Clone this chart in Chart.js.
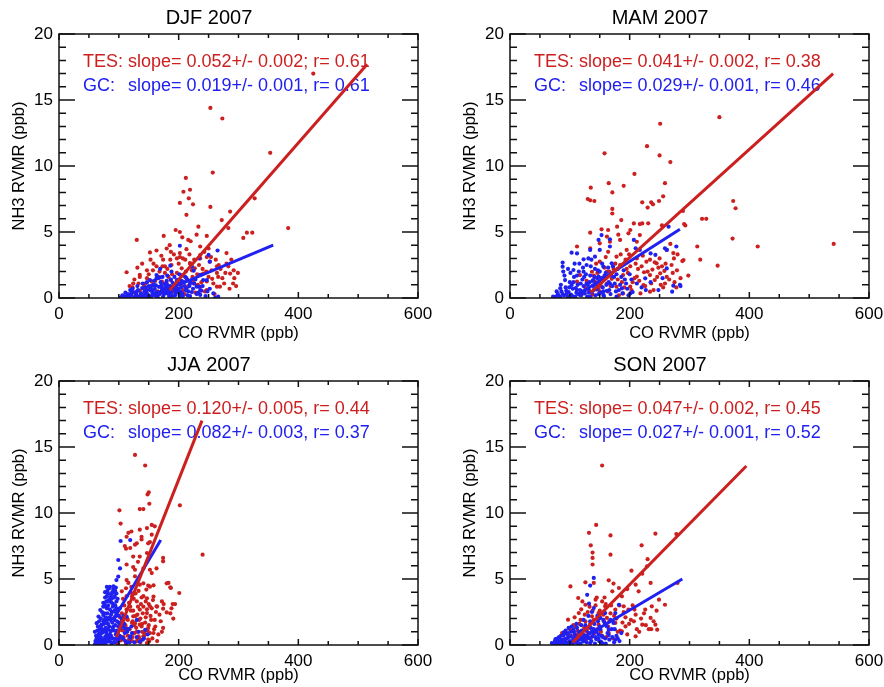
<!DOCTYPE html>
<html>
  <head>
    <meta charset="utf-8" />
    <script src="https://cdn.jsdelivr.net/npm/chart.js"></script>
    <style>
      body { margin: 0; background: #fff; overflow: hidden; width: 884px; height: 687px; position: relative; }
      .panel { position: absolute; width: 442px; height: 343px; }
    </style>
  </head>
  <body>
    <div class="panel" style="left:0;top:0"><canvas id="djf"></canvas></div>
    <div class="panel" style="left:451px;top:0"><canvas id="mam"></canvas></div>
    <div class="panel" style="left:0;top:347px"><canvas id="jja"></canvas></div>
    <div class="panel" style="left:451px;top:347px"><canvas id="son"></canvas></div>
    <script>
      // [CO, NH3] pairs in ppb
      const djfTes = [[425,17.0],[253,14.4],[273,13.6],[353,11.0],[257,9.5],[212,9.1],[208,8.05],[219,8.2],[217,7.55],[202,7.2],[224,7.1],[253,6.9],[213,6.3],[327,7.55],[286,6.55],[272,5.9],[233,5.4],[195,5.15],[283,5.3],[383,5.3],[314,4.95],[323,4.95],[308,4.55],[247,4.7],[175,4.7],[130,4.4],[206,4.6],[220,4.3],[236,3.9],[250,3.75],[163,3.6],[152,3.45],[180,3.75],[187,3.5],[202,3.4],[213,3.7],[247,3.1],[236,3.0],[174,2.9],[158,2.6],[197,3.0],[211,2.9],[280,2.6],[264,2.4],[292,2.1],[286,1.85],[266,1.6],[255,2.1],[241,1.85],[113,1.95],[135,1.75],[147,1.5],[133,1.1],[123,0.8],[141,0.73],[155,1.25],[166,1.6],[177,1.9],[187,1.35],[194,1.0],[225,1.1],[236,0.86],[247,1.25],[264,0.86],[208,1.7],[163,2.4],[173,2.4],[188,2.5],[205,2.25],[219,2.6],[227,2.25],[147,2.1],[185,4.0],[202,5.0],[216,4.4],[230,4.8],[135,1.6],[124,1.1],[144,1.1],[157,2.1],[177,2.4],[186,2.9],[202,3.1],[197,1.9],[219,2.65],[236,3.25],[252,2.75],[264,1.9],[280,3.4],[283,2.4],[299,1.9],[291,1.1],[269,0.86],[247,0.6],[225,1.36],[208,0.6],[152,0.75],[169,0.37],[122,0.48],[138,0.1],[128,0.3],[135,0.55],[142,1.0],[148,0.2],[160,0.95],[165,0.5],[172,1.25],[178,0.7],[183,1.6],[190,0.5],[198,1.25],[203,1.75],[210,0.3],[214,1.4],[222,2.1],[228,0.4],[232,1.0],[240,2.2],[244,0.5],[256,1.45],[260,0.3],[270,2.2],[276,1.1],[285,0.7],[293,1.5],[118,0.9],[126,1.4],[131,2.3],[139,2.6],[145,0.4],[150,1.8],[153,2.9],[161,1.3],[168,2.0],[171,3.2],[176,1.1],[181,2.2],[184,0.3],[189,1.8],[192,3.3],[196,0.7],[200,2.6],[204,1.0],[207,3.0],[212,2.0],[216,0.9],[218,3.3],[223,1.6],[226,2.9],[231,1.8],[234,2.5],[238,1.2],[243,3.5],[246,2.0],[250,1.6],[254,3.1],[258,1.1],[262,2.9],[267,2.5],[273,1.5],[278,1.9],[288,2.9],[296,0.9]];
      const djfGc = [[202,3.96],[186,2.45],[234,3.0],[250,3.26],[265,3.6],[252,2.75],[221,2.37],[225,2.07],[163,1.74],[169,1.57],[155,0.93],[145,0.8],[180,0.9],[202,1.1],[236,0.6],[258,0.35],[266,0.1],[219,0.15],[113,0.1],[121,0.35],[130,0.48],[241,1.36],[234,0.86],[222,2.4],[169,2.2],[188,2.0],[236,1.75],[230,0.86],[247,1.36],[152,1.36],[163,1.5],[180,1.1],[197,1.36],[211,1.6],[219,1.1],[119,0.6],[110,0.1],[102,0.02],[147,0.6],[158,0.35],[172,0.73],[183,0.36],[194,0.6],[202,0.23],[213,0.73],[236,0.23],[261,0.02],[104,0.05],[108,0.15],[112,0.05],[115,0.3],[118,0.1],[121,0.2],[124,0.45],[126,0.05],[129,0.25],[132,0.6],[134,0.1],[137,0.35],[139,0.75],[141,0.15],[143,0.5],[146,0.05],[148,0.3],[150,0.9],[152,0.6],[154,0.15],[156,0.4],[158,1.0],[160,0.7],[161,0.2],[163,0.45],[165,0.05],[167,0.85],[168,0.3],[170,1.2],[172,0.55],[174,0.1],[176,0.75],[178,0.35],[180,1.3],[182,0.6],[184,0.15],[186,0.9],[188,0.4],[190,1.15],[192,0.7],[194,0.2],[196,0.95],[198,0.5],[200,1.4],[202,0.1],[204,0.8],[206,0.35],[209,1.2],[212,0.6],[215,0.2],[218,0.9],[222,0.45],[226,1.1],[230,0.3],[238,0.55],[245,0.15],[252,0.7],[106,0.2],[111,0.4],[117,0.25],[123,0.7],[128,0.1],[131,0.9],[136,0.2],[140,1.1],[144,0.35],[147,1.2],[151,0.1],[153,0.8],[157,0.6],[159,1.3],[162,0.95],[164,0.25],[166,1.5],[169,0.45],[171,0.95],[173,1.6],[175,0.3],[177,1.05],[179,0.55],[181,1.7],[183,0.9],[185,0.45],[187,1.4],[189,0.15],[191,0.8],[193,1.6],[195,0.35],[197,1.1],[199,0.7],[201,1.8],[203,0.5],[205,1.3],[207,0.15],[210,0.9],[213,1.5],[216,0.5],[220,1.2],[224,0.7],[228,1.4],[233,0.4],[240,0.9],[248,0.5]];
      const mamTes = [[350,13.7],[251,13.2],[229,11.5],[250,10.8],[268,10.3],[158,10.96],[208,9.4],[165,8.7],[190,8.5],[259,8.7],[135,8.36],[171,8.0],[256,7.7],[130,7.5],[134,7.4],[141,7.35],[221,7.25],[236,7.25],[249,7.35],[239,7.1],[230,6.85],[171,6.75],[171,6.4],[373,7.35],[377,6.8],[289,6.6],[186,5.9],[207,5.65],[221,5.65],[254,5.5],[321,6.0],[328,6.0],[291,5.6],[372,4.5],[313,3.9],[414,3.9],[541,4.1],[318,2.9],[347,2.45],[298,1.7],[288,2.8],[274,3.0],[268,4.1],[217,5.6],[231,5.66],[153,5.2],[164,5.15],[179,5.4],[201,5.15],[134,4.95],[162,4.65],[181,4.8],[198,4.9],[217,4.77],[167,4.26],[150,4.14],[184,4.4],[212,4.26],[112,3.9],[134,3.76],[164,3.5],[195,3.64],[178,3.13],[212,3.0],[234,2.9],[245,2.63],[254,2.4],[220,2.4],[201,2.4],[184,2.5],[150,2.75],[137,1.99],[162,1.99],[189,1.74],[212,1.62],[234,1.74],[251,1.87],[242,1.36],[223,0.98],[201,0.86],[178,0.86],[162,1.1],[142,1.24],[125,0.86],[112,1.24],[117,1.74],[150,0.48],[189,0.35],[234,0.48],[259,1.1],[279,2.1],[290,2.87],[262,3.64],[273,3.4],[293,5.5],[120,0.4],[128,1.3],[138,0.25],[146,1.9],[152,0.9],[158,2.3],[163,0.5],[170,1.45],[176,2.6],[182,0.2],[187,1.2],[193,2.9],[197,1.9],[203,0.6],[208,1.5],[214,2.2],[218,0.35],[224,1.95],[228,2.75],[238,2.15],[240,0.6],[248,2.3],[252,1.0],[258,2.05],[262,1.6],[270,2.5],[275,1.2],[280,3.3],[132,0.6],[140,1.7],[144,2.6],[148,0.7],[155,1.5],[160,3.1],[166,2.0],[168,0.9],[173,2.2],[180,1.4],[185,3.3],[191,0.8],[195,2.2],[199,3.3],[205,1.2],[210,2.6],[216,1.3],[222,3.2],[226,0.9],[230,2.0],[236,1.1],[242,2.7],[246,1.6],[250,3.0],[256,0.8],[260,2.6],[266,1.4],[272,1.9],[278,0.8],[285,1.5]];
      const mamGc = [[278,3.9],[285,0.9],[271,0.48],[259,3.76],[207,4.4],[210,3.76],[235,3.38],[265,5.4],[153,4.77],[148,4.4],[167,4.45],[134,3.64],[150,3.64],[167,3.9],[103,3.43],[112,3.38],[123,2.93],[131,3.0],[142,3.13],[88,2.68],[88,2.37],[89,2.0],[106,2.12],[123,1.99],[156,2.37],[170,2.63],[148,1.62],[92,1.36],[103,0.98],[84,0.73],[112,0.6],[128,1.1],[139,1.36],[167,1.1],[187,0.73],[217,3.64],[226,1.49],[227,0.6],[201,0.35],[262,3.64],[243,3.26],[262,2.24],[273,0.93],[284,1.0],[72,0.1],[95,0.35],[117,0.23],[156,0.23],[178,0.1],[134,0.1],[76,0.1],[80,0.3],[84,0.05],[86,0.5],[90,0.2],[93,0.8],[96,0.1],[98,0.45],[100,1.2],[102,0.25],[105,0.7],[107,1.6],[109,0.1],[111,0.4],[113,1.0],[115,2.0],[117,0.6],[119,0.2],[121,1.4],[123,0.9],[125,0.35],[127,1.8],[129,0.1],[131,0.7],[133,1.2],[135,2.4],[137,0.45],[139,0.9],[141,1.6],[143,0.2],[145,0.65],[147,2.1],[149,1.1],[151,0.4],[153,1.5],[155,0.8],[157,0.15],[160,1.9],[162,0.55],[165,1.2],[168,0.3],[171,0.9],[174,1.6],[177,0.5],[180,2.2],[184,1.0],[188,0.35],[192,1.4],[196,0.7],[200,1.8],[205,0.45],[212,1.1],[220,0.8],[235,1.2],[248,0.6],[255,1.5],[78,0.5],[82,0.15],[85,1.0],[88,0.3],[91,1.7],[94,0.55],[97,2.2],[99,0.8],[101,1.9],[104,0.15],[106,1.2],[108,2.6],[110,0.75],[112,1.7],[114,0.3],[116,2.6],[118,1.1],[120,0.5],[122,2.3],[124,1.6],[126,0.6],[128,2.5],[130,1.0],[132,0.4],[134,1.7],[136,2.9],[138,1.3],[140,0.6],[142,2.2],[144,1.0],[146,1.5],[148,0.3],[150,2.0],[152,1.2],[154,2.6],[156,0.5],[158,1.7],[161,1.0],[164,2.3],[166,0.6],[169,1.7],[172,2.4],[175,1.1],[178,1.8],[182,0.6],[186,1.6],[190,2.1],[194,1.1],[198,0.2],[203,1.4]];
      const jjaTes = [[127,14.4],[144,13.6],[150,11.57],[148,11.4],[151,10.7],[202,10.58],[101,10.2],[135,10.3],[141,10.3],[240,6.84],[116,8.5],[121,8.6],[135,8.74],[147,8.86],[155,9.1],[160,8.99],[113,8.2],[110,7.5],[119,7.35],[130,7.7],[138,8.0],[149,7.7],[155,8.36],[124,6.7],[135,6.7],[147,6.97],[174,6.6],[174,6.34],[113,6.1],[127,5.7],[141,5.8],[155,5.45],[127,5.2],[116,4.7],[135,4.57],[149,4.5],[158,4.52],[183,4.7],[187,4.32],[201,3.94],[105,4.07],[113,3.7],[121,3.94],[130,3.3],[141,3.7],[152,2.93],[163,2.93],[174,2.75],[190,3.1],[180,2.47],[191,2.0],[174,1.29],[135,2.68],[147,2.42],[124,2.17],[113,2.68],[105,1.92],[122,1.67],[135,1.54],[149,1.29],[158,0.91],[141,0.66],[124,0.91],[108,0.4],[130,0.28],[149,0.4],[99,0.66],[103,9.2],[138,8.2],[112,7.3],[127,7.6],[152,7.8],[132,6.3],[124,5.9],[152,5.7],[163,5.8],[113,4.92],[141,4.67],[152,4.42],[180,4.67],[186,4.37],[122,3.67],[147,3.54],[158,3.67],[172,3.3],[164,2.91],[155,2.78],[188,2.78],[186,2.4],[194,3.1],[160,1.9],[108,1.9],[113,1.26],[127,1.65],[138,1.4],[152,0.9],[102,0.66],[119,0.4],[133,0.66],[147,0.15],[99,0.03],[96,0.2],[98,0.8],[101,1.6],[103,0.35],[105,2.4],[106,1.1],[108,0.6],[109,3.0],[111,1.5],[112,0.1],[114,2.0],[115,0.7],[117,3.2],[118,1.2],[120,2.6],[122,0.3],[123,1.8],[125,3.5],[126,0.9],[128,2.2],[129,1.3],[131,0.5],[132,2.9],[134,1.9],[136,0.2],[137,3.1],[139,1.0],[140,2.4],[142,0.7],[144,1.7],[145,3.3],[147,2.7],[150,1.5],[153,2.2],[156,0.5],[159,1.2],[162,2.5],[166,0.8],[170,1.8],[175,3.1],[100,1.1],[102,2.1],[104,0.5],[107,3.5],[110,1.2],[112,4.3],[115,1.9],[117,0.4],[119,2.9],[121,4.4],[123,0.6],[124,2.6],[126,1.5],[128,3.9],[130,1.0],[131,2.3],[133,4.1],[134,0.5],[136,2.0],[138,3.6],[139,1.6],[141,2.9],[143,0.9],[145,2.1],[146,4.2],[148,1.1],[150,3.1],[151,0.3],[154,1.9],[157,3.4],[161,1.4],[164,0.3],[168,2.3],[172,1.0]];
      const jjaGc = [[103,7.88],[119,7.95],[99,6.44],[102,5.8],[99,5.18],[96,4.92],[80,4.4],[85,4.4],[91,4.45],[95,4.35],[77,4.0],[82,3.9],[91,4.0],[96,3.9],[80,3.7],[88,3.5],[93,3.7],[74,3.2],[85,3.3],[91,3.1],[69,2.65],[80,2.78],[88,2.53],[96,2.78],[66,2.15],[74,2.27],[82,2.02],[94,2.15],[63,1.65],[71,1.52],[80,1.65],[91,1.4],[102,1.65],[60,1.0],[68,0.9],[77,1.15],[85,0.77],[96,1.0],[110,1.26],[63,0.4],[71,0.28],[80,0.53],[88,0.15],[99,0.4],[119,0.66],[121,1.4],[133,1.0],[144,1.15],[113,2.15],[130,1.9],[148,0.8],[140,0.4],[68,0.02],[74,0.05],[60,0.05],[62,0.2],[63,0.5],[65,0.1],[66,0.8],[67,0.35],[68,1.2],[69,0.05],[70,0.6],[71,1.5],[72,0.2],[73,0.95],[74,1.8],[75,0.4],[76,2.4],[77,0.1],[78,1.3],[79,0.7],[80,2.9],[81,0.25],[82,1.6],[83,3.4],[84,0.55],[85,2.1],[86,1.0],[87,3.8],[88,0.15],[89,2.5],[90,1.3],[91,4.2],[92,0.45],[93,1.9],[94,3.0],[95,0.8],[96,2.3],[97,1.1],[98,3.5],[99,0.3],[100,1.7],[102,2.8],[104,0.6],[106,1.4],[108,2.2],[110,0.9],[113,0.2],[116,1.2],[119,0.55],[122,0.9],[126,0.2],[130,0.6],[135,0.25],[142,0.5],[61,0.3],[62,0.7],[64,1.1],[64,0.2],[65,1.4],[66,0.5],[67,1.8],[68,0.6],[69,1.4],[70,2.0],[70,0.2],[71,0.9],[72,2.5],[72,1.2],[73,0.4],[74,2.9],[74,1.0],[75,1.6],[75,0.2],[76,3.1],[76,1.9],[77,0.6],[77,3.6],[78,2.1],[78,0.3],[79,1.0],[79,3.3],[80,1.9],[80,0.8],[81,2.4],[81,4.1],[82,1.2],[82,3.0],[83,0.4],[83,2.0],[84,4.3],[84,1.4],[85,2.7],[85,0.3],[86,3.6],[86,1.9],[87,0.7],[87,2.3],[88,3.2],[88,1.1],[89,4.0],[89,1.7],[90,0.5],[90,2.9],[91,2.0],[92,3.6],[92,1.1],[93,2.6],[93,0.2],[94,1.5],[94,4.1],[95,2.5],[96,0.5],[96,3.3],[97,1.8],[98,2.6],[98,0.9],[99,1.4],[100,2.2],[101,0.7],[103,1.3],[105,2.0],[107,0.5],[109,1.6],[111,0.3],[114,1.0],[118,0.2]];
      const sonTes = [[154,13.6],[144,9.1],[132,8.5],[168,8.3],[243,8.43],[278,8.4],[135,7.55],[138,7.0],[138,6.6],[138,6.1],[168,6.84],[220,7.55],[230,6.5],[229,5.96],[203,5.63],[221,5.4],[280,4.7],[126,4.75],[101,4.44],[140,4.7],[165,4.9],[173,4.65],[182,4.32],[196,4.24],[215,4.07],[235,4.7],[210,4.57],[249,3.43],[259,3.05],[237,2.93],[226,2.68],[208,2.68],[114,3.56],[126,3.05],[143,3.43],[154,3.3],[159,2.93],[171,4.07],[187,3.69],[176,2.68],[190,2.93],[198,2.68],[97,1.92],[115,2.42],[109,1.41],[126,1.79],[137,2.17],[148,2.42],[162,2.05],[176,1.67],[193,1.41],[207,1.79],[221,1.54],[235,2.05],[243,1.54],[246,1.16],[87,0.91],[98,0.66],[120,0.91],[143,1.04],[165,0.91],[187,1.04],[210,0.66],[132,1.29],[148,1.54],[92,0.4],[100,1.2],[104,0.3],[108,2.1],[112,0.8],[116,1.6],[119,2.7],[122,0.5],[125,2.3],[129,1.0],[133,2.9],[136,0.6],[140,1.9],[143,3.0],[146,1.2],[150,2.6],[154,0.7],[157,1.8],[160,3.1],[164,1.4],[168,2.4],[172,0.5],[178,2.0],[184,1.1],[190,2.5],[196,0.8],[202,1.9],[210,2.3],[216,1.0],[224,2.4],[232,1.2],[240,1.8],[102,0.7],[106,1.5],[110,0.3],[113,1.1],[118,1.9],[121,3.3],[124,1.3],[127,0.4],[130,2.5],[134,1.6],[138,2.6],[141,0.9],[145,3.6],[149,2.0],[152,1.0],[156,2.3],[158,3.6],[161,0.6],[166,1.8],[169,3.0],[174,2.2],[180,1.0],[183,3.0],[188,1.7],[193,2.1],[199,1.6],[205,3.0],[212,1.2],[219,2.0],[227,1.5],[236,1.2],[245,2.6]];
      const sonGc = [[140,5.08],[134,4.5],[129,3.8],[132,3.13],[140,2.8],[159,2.42],[151,2.05],[182,3.05],[176,2.42],[173,1.67],[98,1.29],[90,0.96],[106,1.16],[120,0.86],[137,1.04],[165,1.16],[148,0.53],[176,0.4],[70,0.15],[81,0.28],[95,0.2],[109,0.35],[123,0.28],[134,0.15],[154,0.15],[72,0.05],[75,0.3],[78,0.1],[80,0.5],[83,0.15],[85,0.7],[87,0.25],[90,0.05],[92,0.45],[94,0.85],[96,0.15],[98,0.6],[100,0.3],[102,1.0],[104,0.1],[106,0.5],[108,0.8],[110,0.2],[112,1.3],[114,0.4],[116,0.65],[118,0.1],[120,1.1],[122,0.35],[124,0.75],[126,1.5],[128,0.2],[130,0.55],[132,0.9],[134,1.8],[136,0.3],[138,0.65],[140,1.2],[142,0.1],[144,0.45],[146,2.2],[148,0.8],[150,1.4],[152,0.25],[155,0.6],[158,1.7],[160,0.1],[163,0.9],[166,0.4],[170,1.2],[174,0.2],[178,0.7],[183,0.3],[76,0.45],[79,0.2],[82,0.6],[84,0.05],[86,0.4],[89,0.7],[91,0.25],[93,1.1],[95,0.5],[97,0.9],[99,0.1],[101,0.65],[103,1.4],[105,0.3],[107,1.0],[109,0.6],[111,1.6],[113,0.15],[115,1.0],[117,0.45],[119,1.5],[121,0.7],[123,1.9],[125,0.4],[127,1.1],[129,0.7],[131,2.2],[133,0.5],[135,1.3],[137,2.5],[139,0.9],[141,1.6],[143,0.6],[145,1.0],[147,1.8],[149,0.3],[151,1.2],[153,0.7],[156,1.9],[159,0.5],[162,1.4],[165,0.75],[168,1.9],[171,0.6],[175,1.2],[180,0.5],[186,0.9]];

      // regression line end points
      const djfTesFit = [[185,0.6],[515,17.7]];
      const djfGcFit = [[150,0.05],[358,4.0]];
      const mamTesFit = [[135,0.4],[540,17.0]];
      const mamGcFit = [[115,0.3],[284,5.2]];
      const jjaTesFit = [[96,0.6],[239,17.0]];
      const jjaGcFit = [[92,2.0],[170,7.95]];
      const sonTesFit = [[105,0.2],[395,13.56]];
      const sonGcFit = [[105,0.1],[288,5.0]];

      const xTicks = [0, 200, 400, 600];
      const yTicks = [0, 5, 10, 15, 20];

      const RED = "#cc2020";
      const BLUE = "#2020f0";

      Chart.defaults.font.family = "'Liberation Sans', Arial, sans-serif";
      Chart.defaults.color = "#000";

      const toXY = (pairs) => pairs.map(([x, y]) => ({ x, y }));

      // IDL-style box with inward ticks on all four sides
      const frameTicks = {
        id: "frameTicks",
        afterDraw(chart) {
          const { ctx, chartArea: a } = chart;
          const xs = chart.scales.x, ys = chart.scales.y;
          ctx.save();
          ctx.strokeStyle = "#111";
          ctx.lineWidth = 1.5;
          for (let v = 0; v <= 20; v++) {
            const py = ys.getPixelForValue(v);
            const len = v % 5 === 0 ? 16 : 7;
            ctx.beginPath();
            ctx.moveTo(a.left, py); ctx.lineTo(a.left + len, py);
            ctx.moveTo(a.right, py); ctx.lineTo(a.right - len, py);
            ctx.stroke();
          }
          for (let v = 0; v <= 600; v += 50) {
            const px = xs.getPixelForValue(v);
            const len = v % 200 === 0 ? 6 : 4;
            ctx.beginPath();
            ctx.moveTo(px, a.bottom); ctx.lineTo(px, a.bottom - len);
            ctx.moveTo(px, a.top); ctx.lineTo(px, a.top + len);
            ctx.stroke();
          }
          ctx.strokeRect(a.left, a.top, a.right - a.left, a.bottom - a.top);
          ctx.restore();
        },
      };

      const statText = {
        id: "statText",
        beforeDatasetsDraw(chart, args, opts) {
          const { ctx, chartArea: a } = chart;
          ctx.save();
          ctx.font = "18px 'Liberation Sans', Arial, sans-serif";
          ctx.textBaseline = "middle";
          const x0 = a.left + 24;
          const indent = ctx.measureText("TES: ").width;
          ctx.fillStyle = RED;
          ctx.fillText(opts.tes, x0, a.top + 28);
          ctx.fillStyle = BLUE;
          ctx.fillText("GC:", x0, a.top + 52);
          ctx.fillText(opts.gc, x0 + indent, a.top + 52);
          ctx.restore();
        },
      };

      function makePanel(id, title, tes, gc, tesFit, gcFit, tesLabel, gcLabel, lower) {
        const ctx = document.getElementById(id).getContext("2d");
        return new Chart(ctx, {
          type: "scatter",
          data: {
            datasets: [
              { type: "line", data: toXY(tesFit), borderColor: RED, borderWidth: 3, pointRadius: 0, order: 0 },
              { type: "line", data: toXY(gcFit), borderColor: BLUE, borderWidth: 3, pointRadius: 0, order: 0 },
              { data: toXY(gc), backgroundColor: BLUE, borderWidth: 0, pointRadius: 2.1, order: 1 },
              { data: toXY(tes), backgroundColor: RED, borderWidth: 0, pointRadius: 2.1, order: 2 },
            ],
          },
          options: {
            responsive: true,
            maintainAspectRatio: false,
            animation: false,
            layout: { padding: { left: 0, right: 24, top: 0, bottom: lower ? 5 : 0 } },
            plugins: {
              legend: { display: false },
              tooltip: { enabled: false },
              title: {
                display: true,
                text: title,
                font: { size: 20, weight: "normal" },
                color: "#000",
                padding: { top: 6, bottom: 4 },
              },
              statText: { tes: tesLabel, gc: gcLabel },
            },
            scales: {
              x: {
                type: "linear",
                min: 0,
                max: 600,
                afterBuildTicks: (s) => { s.ticks = xTicks.map((v) => ({ value: v })); },
                ticks: { font: { size: 17 }, color: "#000", padding: 6, maxRotation: 0, autoSkip: false },
                grid: { display: false, drawTicks: false },
                border: { display: false },
                title: { display: true, text: "CO RVMR (ppb)", font: { size: 16.5 }, color: "#000", padding: { top: 0, bottom: 0 } },
                afterFit: (s) => { s.height = lower ? 40 : 45; },
              },
              y: {
                type: "linear",
                min: 0,
                max: 20,
                afterBuildTicks: (s) => { s.ticks = yTicks.map((v) => ({ value: v })); },
                ticks: { font: { size: 17 }, color: "#000", padding: 6 },
                grid: { display: false, drawTicks: false },
                border: { display: false },
                title: { display: true, text: "NH3 RVMR (ppb)", font: { size: 16.5 }, color: "#000", padding: { top: 10, bottom: 0 } },
                afterFit: (s) => { s.width = 59; },
              },
            },
          },
          plugins: [statText, frameTicks],
        });
      }

      makePanel("djf", "DJF 2007", djfTes, djfGc, djfTesFit, djfGcFit,
        "TES: slope= 0.052+/- 0.002; r= 0.61", "slope= 0.019+/- 0.001, r= 0.61", false);
      makePanel("mam", "MAM 2007", mamTes, mamGc, mamTesFit, mamGcFit,
        "TES: slope= 0.041+/- 0.002, r= 0.38", "slope= 0.029+/- 0.001, r= 0.46", false);
      makePanel("jja", "JJA 2007", jjaTes, jjaGc, jjaTesFit, jjaGcFit,
        "TES: slope= 0.120+/- 0.005, r= 0.44", "slope= 0.082+/- 0.003, r= 0.37", true);
      makePanel("son", "SON 2007", sonTes, sonGc, sonTesFit, sonGcFit,
        "TES: slope= 0.047+/- 0.002, r= 0.45", "slope= 0.027+/- 0.001, r= 0.52", true);
    </script>
  </body>
</html>
